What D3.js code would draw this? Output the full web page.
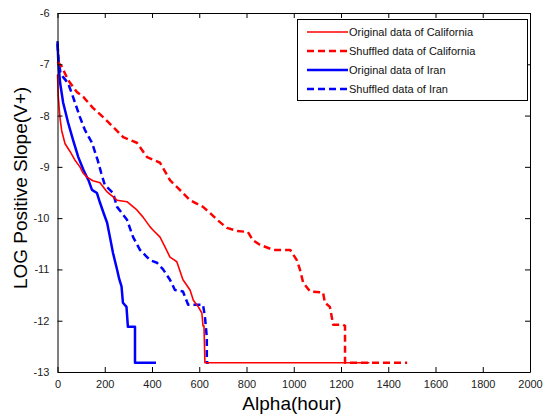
<!DOCTYPE html>
<html><head><meta charset="utf-8">
<script src="https://cdn.jsdelivr.net/npm/d3@7"></script>
<style>body{margin:0;background:#fff}svg{display:block}text{font-family:"Liberation Sans",Arial,sans-serif}</style>
</head><body><svg id="c" width="546" height="417"></svg>
<script>
const xTicks = [0,200,400,600,800,1000,1200,1400,1600,1800,2000];
const yTicks = [-6,-7,-8,-9,-10,-11,-12,-13];
const seriesNames = ["Original data of California","Shuffled data of California","Original data of Iran","Shuffled data of Iran"];
const calOrigX = [0,3,8,12,18,32,53,74,95,108,125,150,180,210,252,294,336,362,392,404,434,455,476,489,505,531,561,575,596,611,616,620,624,1320];
const calOrigY = [-7.2,-7.6,-7.9,-8.1,-8.3,-8.55,-8.7,-8.87,-9.0,-9.12,-9.2,-9.27,-9.31,-9.49,-9.65,-9.68,-9.84,-9.98,-10.17,-10.23,-10.37,-10.56,-10.76,-10.8,-10.85,-11.2,-11.4,-11.6,-11.73,-11.85,-12.1,-12.1,-12.82,-12.82];
const calShufX = [0,19,45,82,110,150,193,235,278,336,379,434,476,505,531,561,616,646,675,717,760,806,827,857,914,985,1013,1026,1040,1069,1124,1132,1153,1167,1209,1217,1217,1480];
const calShufY = [-6.95,-7.05,-7.31,-7.54,-7.64,-7.85,-8.03,-8.22,-8.42,-8.53,-8.81,-8.92,-9.26,-9.39,-9.51,-9.65,-9.78,-9.9,-10.03,-10.19,-10.25,-10.27,-10.43,-10.52,-10.62,-10.62,-10.82,-11.0,-11.26,-11.43,-11.45,-11.65,-11.73,-12.08,-12.08,-12.1,-12.82,-12.82];
const iranOrigX = [0,3,6,11,24,45,66,88,110,131,146,167,180,195,210,222,235,252,262,271,277,292,298,328,328,417];
const iranOrigY = [-6.55,-6.9,-7.1,-7.36,-7.75,-8.14,-8.48,-8.81,-9.06,-9.26,-9.45,-9.51,-9.7,-9.9,-10.09,-10.37,-10.68,-11.0,-11.2,-11.33,-11.65,-11.73,-12.12,-12.12,-12.82,-12.82];
const iranShufX = [0,5,12,24,45,66,95,116,146,170,185,200,235,252,294,320,349,379,392,421,447,476,497,531,553,616,624,632,632,640];
const iranShufY = [-6.6,-6.95,-7.15,-7.25,-7.37,-7.64,-8.03,-8.28,-8.53,-8.87,-9.12,-9.35,-9.51,-9.78,-10.03,-10.37,-10.62,-10.76,-10.82,-10.87,-11.0,-11.2,-11.4,-11.43,-11.69,-11.69,-11.92,-12.32,-12.82,-12.82];

const svg = d3.select("#c");
const L=57.5, R=530, T=13, B=372;
const x = d3.scaleLinear().domain([0,2000]).range([L,R]);
const y = d3.scaleLinear().domain([-13,-6]).range([B,T]);
const fmt = d => String(d);

const series = [
  {name:seriesNames[0], xs:calOrigX, ys:calOrigY, color:"#ff0000", w:1.6, dash:null},
  {name:seriesNames[1], xs:calShufX, ys:calShufY, color:"#ff0000", w:2.5, dash:"7,4"},
  {name:seriesNames[2], xs:iranOrigX, ys:iranOrigY, color:"#0000ff", w:2.5, dash:null},
  {name:seriesNames[3], xs:iranShufX, ys:iranShufY, color:"#0000ff", w:2.5, dash:"7,4"}
];
const line = d3.line().x(d=>x(d[0])).y(d=>y(d[1]));
const g = svg.append("g");
[3,2,1,0].forEach(i=>{
  const s = series[i];
  g.append("path").datum(s.xs.map((v,j)=>[v,s.ys[j]]))
   .attr("d",line).attr("fill","none").attr("stroke",s.color)
   .attr("stroke-width",s.w).attr("stroke-dasharray",s.dash).attr("stroke-linejoin","round");
});

svg.append("g").attr("transform",`translate(0,${B})`)
  .call(d3.axisBottom(x).tickValues(xTicks).tickSizeInner(-5).tickSizeOuter(0).tickPadding(8).tickFormat(fmt))
  .call(s=>{s.selectAll("text").attr("font-size",11).attr("fill","#222");s.selectAll("line").attr("stroke","#000");});
svg.append("g").attr("transform",`translate(0,${T})`)
  .call(d3.axisTop(x).tickValues(xTicks).tickSizeInner(-5).tickSizeOuter(0).tickFormat(""))
  .call(s=>s.selectAll("line").attr("stroke","#000"));
svg.append("g").attr("transform",`translate(${L},0)`)
  .call(d3.axisLeft(y).tickValues(yTicks).tickSizeInner(-5).tickSizeOuter(0).tickPadding(8).tickFormat(fmt))
  .call(s=>{s.selectAll("text").attr("font-size",11).attr("fill","#222");s.selectAll("line").attr("stroke","#000");});
svg.append("g").attr("transform",`translate(${R},0)`)
  .call(d3.axisRight(y).tickValues(yTicks).tickSizeInner(-5).tickSizeOuter(0).tickFormat(""))
  .call(s=>s.selectAll("line").attr("stroke","#000"));
svg.selectAll(".domain").attr("stroke","#000");

svg.append("text").attr("x",292).attr("y",410).attr("text-anchor","middle")
  .attr("font-size",19).text("Alpha(hour)");
svg.append("text").attr("transform",`translate(27,188) rotate(-90)`).attr("text-anchor","middle")
  .attr("font-size",19).text("LOG Positive Slope(V+)");

const lg = svg.append("g");
lg.append("rect").attr("x",297.5).attr("y",19.5).attr("width",230).attr("height",81)
  .attr("fill","#fff").attr("stroke","#000").attr("stroke-width",1);
series.forEach((s,i)=>{
  const yy = 32 + i*19;
  lg.append("line").attr("x1",307).attr("x2",348).attr("y1",yy).attr("y2",yy)
    .attr("stroke",s.color).attr("stroke-width",s.w).attr("stroke-dasharray",s.dash);
  lg.append("text").attr("x",349).attr("y",yy+4).attr("font-size",11).attr("fill","#111").text(s.name);
});
</script></body></html>
